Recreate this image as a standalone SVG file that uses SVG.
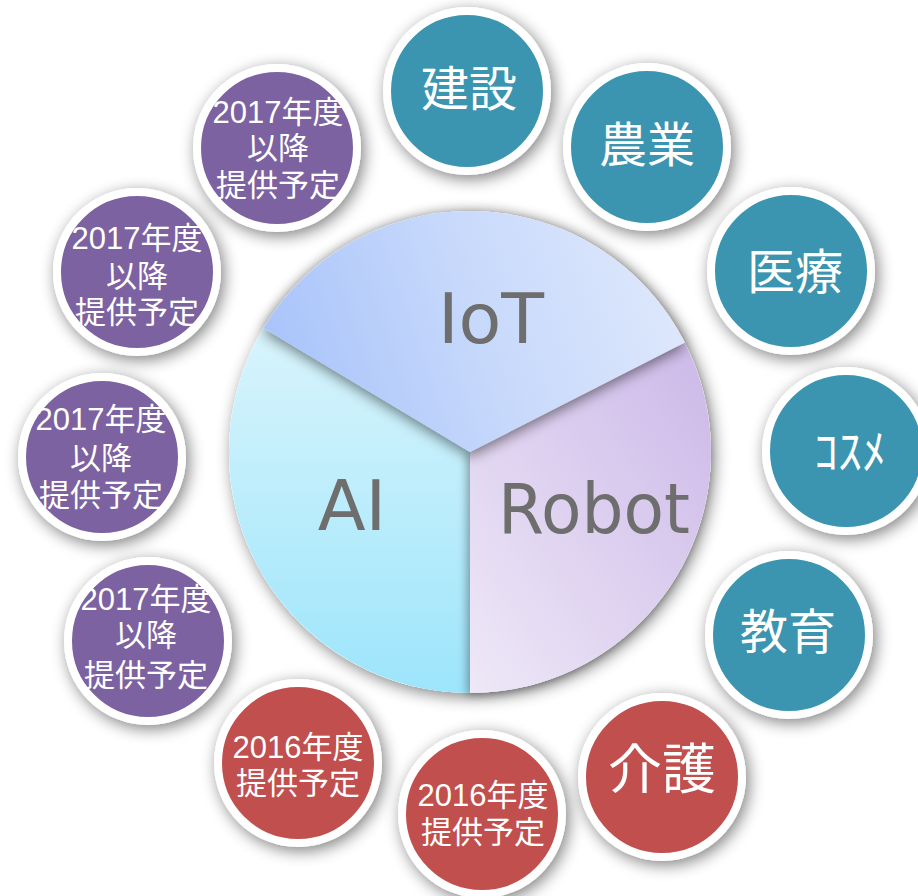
<svg xmlns="http://www.w3.org/2000/svg" width="918" height="896" viewBox="0 0 918 896">
<defs>
<filter id="sh" x="-30%" y="-30%" width="160%" height="160%">
<feGaussianBlur in="SourceAlpha" stdDeviation="8"/>
<feOffset dx="3" dy="4" result="b"/>
<feComponentTransfer><feFuncA type="linear" slope="0.5"/></feComponentTransfer>
<feMerge><feMergeNode/><feMergeNode in="SourceGraphic"/></feMerge>
</filter>
<filter id="ish" x="-30%" y="-30%" width="160%" height="160%">
<feGaussianBlur in="SourceAlpha" stdDeviation="7"/>
<feOffset dx="0" dy="4" result="b"/>
<feComponentTransfer><feFuncA type="linear" slope="0.5"/></feComponentTransfer>
<feMerge><feMergeNode/><feMergeNode in="SourceGraphic"/></feMerge>
</filter>
<filter id="rsh" x="-30%" y="-30%" width="160%" height="160%">
<feGaussianBlur in="SourceAlpha" stdDeviation="5"/>
<feOffset dx="-3" dy="2" result="b"/>
<feComponentTransfer><feFuncA type="linear" slope="0.35"/></feComponentTransfer>
<feMerge><feMergeNode/><feMergeNode in="SourceGraphic"/></feMerge>
</filter>
<linearGradient id="gIoT" x1="0" y1="0.6" x2="1" y2="0.4">
<stop offset="0" stop-color="#a8c3fb"/>
<stop offset="0.5" stop-color="#c6d8fb"/>
<stop offset="1" stop-color="#dee8fc"/>
</linearGradient>
<linearGradient id="gRobot" x1="1" y1="0" x2="0" y2="1">
<stop offset="0" stop-color="#ccb8e8"/>
<stop offset="1" stop-color="#eee8f7"/>
</linearGradient>
<linearGradient id="gAI" x1="0" y1="0" x2="0" y2="1">
<stop offset="0" stop-color="#d8f4fc"/>
<stop offset="1" stop-color="#9de5fb"/>
</linearGradient>
<style>
.c{stroke:#fff;stroke-width:8;filter:url(#sh)}
.teal{fill:#3a95b0}
.purple{fill:#7c62a0}
.red{fill:#c0504d}
.t{fill:#fff;font-family:"Liberation Sans","Noto Sans CJK JP",sans-serif;text-anchor:middle}
.s{font-size:31px}
.l{font-size:48px}
.p{fill:#6e6e6e;font-family:"DejaVu Sans","Verdana",sans-serif;font-size:70px;text-anchor:middle}
</style>
</defs>
<rect width="918" height="896" fill="#fff"/>

<g id="pie">
<circle cx="470" cy="452" r="241" fill="#fff" filter="url(#sh)"/>
<path id="ai" d="M470,452 L470,693 A241,241 0 0 1 263.4,327.9 Z" fill="url(#gAI)"/>
<path id="robot" d="M470,452 L684.7,342.6 A241,241 0 0 1 470,693 Z" fill="url(#gRobot)" filter="url(#rsh)"/>
<path id="iot" d="M470,452 L263.4,327.9 A241,241 0 0 1 684.7,342.6 Z" fill="url(#gIoT)" filter="url(#ish)"/>
<text class="p" x="491" y="343">IoT</text>
<text class="p" x="352" y="530">AI</text>
<text class="p" x="594" y="533" textLength="192" lengthAdjust="spacingAndGlyphs">Robot</text>
</g>

<g id="n-kensetsu"><circle class="c teal" cx="467" cy="91" r="80"/><text class="t l" x="469" y="106">建設</text></g>
<g id="n-nogyo"><circle class="c teal" cx="647" cy="147" r="80"/><text class="t l" x="647" y="162">農業</text></g>
<g id="n-iryo"><circle class="c teal" cx="791" cy="271" r="80"/><text class="t l" x="795" y="289">医療</text></g>
<g id="n-cosme"><circle class="c teal" cx="846" cy="451" r="80"/><text class="t l" x="850" y="469">ｺｽﾒ</text></g>
<g id="n-kyoiku"><circle class="c teal" cx="789" cy="635" r="80"/><text class="t l" x="788" y="649">教育</text></g>
<g id="n-kaigo"><circle class="c red" cx="662" cy="777" r="80"/><text class="t" style="font-size:54px" x="662" y="789">介護</text></g>
<g id="n-2016b"><circle class="c red" cx="482" cy="814" r="80"/><text class="t s" x="483" y="806">2016年度</text><text class="t s" x="483" y="843">提供予定</text></g>
<g id="n-2016a"><circle class="c red" cx="298" cy="763" r="80"/><text class="t s" x="298" y="758">2016年度</text><text class="t s" x="298" y="794">提供予定</text></g>
<g id="n-2017d"><circle class="c purple" cx="148" cy="641" r="80"/><text class="t s" x="146" y="610">2017年度</text><text class="t s" x="146" y="646">以降</text><text class="t s" x="146" y="686">提供予定</text></g>
<g id="n-2017c"><circle class="c purple" cx="102" cy="457" r="80"/><text class="t s" x="101" y="430">2017年度</text><text class="t s" x="101" y="469">以降</text><text class="t s" x="101" y="506">提供予定</text></g>
<g id="n-2017b"><circle class="c purple" cx="137" cy="272" r="80"/><text class="t s" x="137" y="249">2017年度</text><text class="t s" x="137" y="287">以降</text><text class="t s" x="137" y="323">提供予定</text></g>
<g id="n-2017a"><circle class="c purple" cx="277" cy="148" r="80"/><text class="t s" x="278" y="123">2017年度</text><text class="t s" x="278" y="159">以降</text><text class="t s" x="278" y="196">提供予定</text></g>
<g id="connectors"/>
</svg>
